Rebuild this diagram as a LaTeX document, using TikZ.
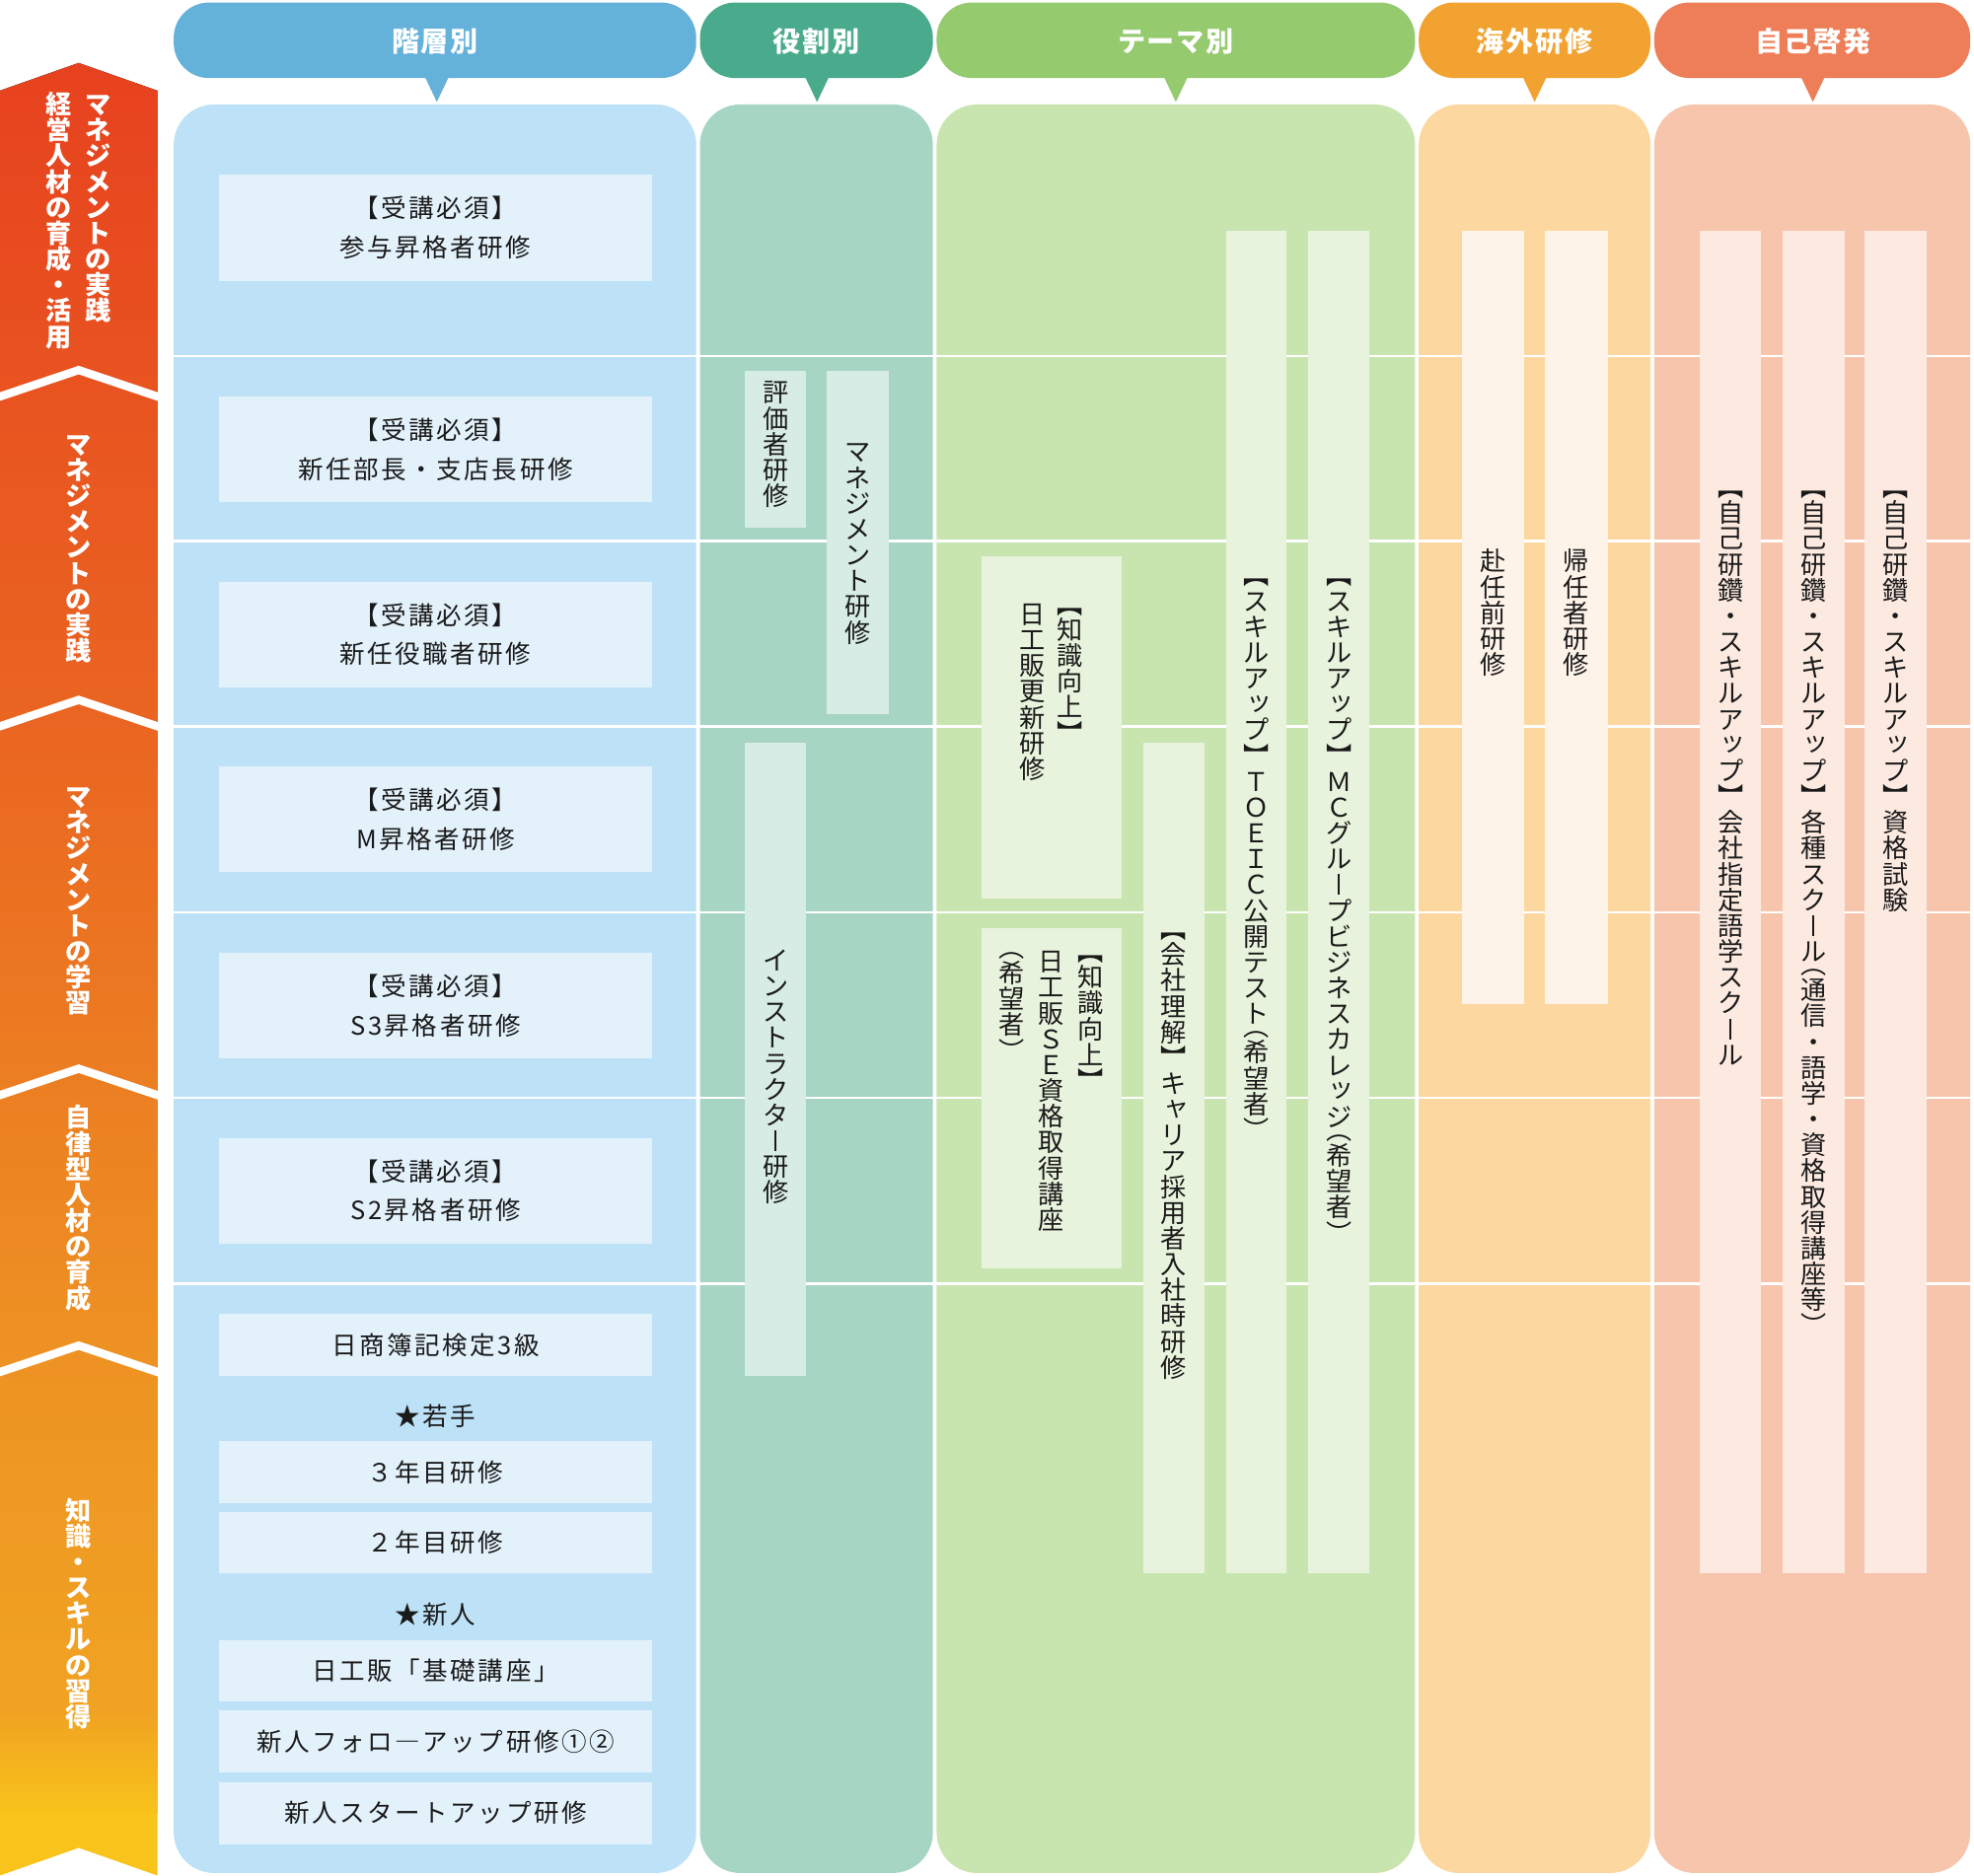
\documentclass[tikz,border=0pt]{standalone}
\usepackage{fontspec}
\setmainfont{Noto Sans CJK JP}
\definecolor{hBlue}{HTML}{64B1DA}
\definecolor{hTeal}{HTML}{4AAA8C}
\definecolor{hGreen}{HTML}{96CA6F}
\definecolor{hOrange}{HTML}{F2A230}
\definecolor{hSalmon}{HTML}{EE7E58}
\definecolor{pBlue}{HTML}{BDE2F7}
\definecolor{pTeal}{HTML}{A6D5C3}
\definecolor{pGreen}{HTML}{C8E5AF}
\definecolor{pOrange}{HTML}{FDD7A0}
\definecolor{pSalmon}{HTML}{F7C4AC}
\definecolor{bBlue}{HTML}{E3F1FB}
\definecolor{bTeal}{HTML}{D7ECE4}
\definecolor{bGreen}{HTML}{E8F3DD}
\definecolor{bOrange}{HTML}{FEF3E8}
\definecolor{bSalmon}{HTML}{FCEAE1}
\definecolor{txt}{HTML}{1A1A1A}
\definecolor{bandA}{HTML}{E7411F}
\definecolor{bandB}{HTML}{EA6721}
\definecolor{bandC}{HTML}{EE9423}
\definecolor{bandD}{HTML}{F0A322}
\definecolor{bandE}{HTML}{F8C31A}
\newcommand\myHdrFont{\fontsize{22}{26}\selectfont\bfseries\addfontfeature{LetterSpace=6}}
\newcommand\myBoxFont{\fontsize{20}{31}\selectfont\addfontfeature{LetterSpace=10}}
\newcommand\myTateFont{\fontsize{20.5}{20.5}\selectfont}
% vertical (tategaki) text: one upright glyph per cell
\newcommand\Po{︵}
\newcommand\Pc{︶}
\makeatletter
\newlength\vtpitch
\setlength\vtpitch{20.5pt}
\def\vt@Po{\Po}
\def\vt@Pc{\Pc}
\newcommand\vtcell[1]{\vbox to \vtpitch{\kern0.86em\hbox to 1em{\hss\smash{#1}\hss}\vss}}
\newcommand\vthalfo{\vbox to 0.5\vtpitch{\kern0.36em\hbox to 1em{\hss\smash{︵}\hss}\vss}}
\newcommand\vthalfc{\vbox to 0.5\vtpitch{\kern0.86em\hbox to 1em{\hss\smash{︶}\hss}\vss}}
\newcommand\vtext[1]{\vbox{\offinterlineskip\@tfor\vt@c:=#1\do{%
  \ifx\vt@c\vt@Po\vthalfo\else\ifx\vt@c\vt@Pc\vthalfc\else\vtcell{\vt@c}\fi\fi}}}
\makeatother
\newcommand\Xtu{\raisebox{0.13em}{\hspace{0.2em}ッ}}
\newcommand\Xya{\raisebox{0.13em}{\hspace{0.2em}ャ}}
\newcommand\Xcho{\rule[-0.02em]{0.065em}{0.8em}}
\begin{document}
\begin{tikzpicture}[x=1pt,y=-1pt,
  every node/.style={inner sep=0pt, outer sep=0pt},
  hdr/.style={text=white, font=\myHdrFont},
  box/.style={fill=bBlue, minimum width=344pt, font=\myBoxFont, align=center, text=txt},
  star/.style={font=\myBoxFont, text=txt},
  vt/.style={anchor=north, font=\myTateFont, text=txt},
  vtw/.style={anchor=north, font=\myTateFont\bfseries, text=white},
  rowline/.style={white, line width=2pt},
  chev/.style={white, line width=6.5pt, miter limit=10},
  panel/.style={rounded corners=32pt}
]
\useasboundingbox (0,0) rectangle (1568,1490);
\fill[white] (0,0) rectangle (1568,1490);

% ---------- left band ----------
\begin{scope}
\clip (0,72) -- (62.5,50) -- (125,72) -- (125,1490) -- (62.5,1468) -- (0,1490) -- cycle;
\fill[top color=bandA, bottom color=bandB] (0,40) rectangle (125,601);
\fill[top color=bandB, bottom color=bandC] (0,600) rectangle (125,1101);
\fill[top color=bandC, bottom color=bandD] (0,1100) rectangle (125,1361);
\fill[top color=bandD, bottom color=bandE] (0,1360) rectangle (125,1441);
\fill[bandE] (0,1440) rectangle (125,1500);
\end{scope}
\foreach \e in {315,577,870,1090}
  \draw[chev] (-5,\e+1.7) -- (62.5,\e-21) -- (130,\e+1.7);

\node[vtw] (L1a) at (78,73) {\vtext{マネジメントの実践}};
\node[vtw] (L1b) at (47,73) {\vtext{経営人材の育成・活用}};
\node[vtw] (L2) at (62.5,343) {\vtext{マネジメントの実践}};
\node[vtw] (L3) at (62.5,623) {\vtext{マネジメントの学習}};
\node[vtw] (L4) at (62.5,878) {\vtext{自律型人材の育成}};
\node[vtw] (L5) at (62.5,1190) {\vtext{知識・スキルの習得}};

% ---------- headers ----------
\fill[hBlue, rounded corners=28pt] (138,2) rectangle (553,62);
\fill[hBlue] (337,60) -- (357,60) -- (347,81) -- cycle;
\fill[hTeal, rounded corners=28pt] (556,2) rectangle (741,62);
\fill[hTeal] (639,60) -- (659,60) -- (649,81) -- cycle;
\fill[hGreen, rounded corners=28pt] (744,2) rectangle (1124,62);
\fill[hGreen] (924,60) -- (944,60) -- (934,81) -- cycle;
\fill[hOrange, rounded corners=28pt] (1127,2) rectangle (1311,62);
\fill[hOrange] (1209,60) -- (1229,60) -- (1219,81) -- cycle;
\fill[hSalmon, rounded corners=28pt] (1314,2) rectangle (1565,62);
\fill[hSalmon] (1430,60) -- (1450,60) -- (1440,81) -- cycle;
\node[hdr] (H1) at (345.5,33) {階層別};
\node[hdr] (H2) at (648.5,33) {役割別};
\node[hdr] (H3) at (934,33) {テーマ別};
\node[hdr] (H4) at (1219,33) {海外研修};
\node[hdr] (H5) at (1440,33) {自己啓発};

% ---------- panels ----------
\fill[pBlue, panel] (138,83) rectangle (553,1488);
\fill[pTeal, panel] (556,83) rectangle (741,1488);
\fill[pGreen, panel] (744,83) rectangle (1124,1488);
\fill[pOrange, panel] (1127,83) rectangle (1311,1488);
\fill[pSalmon, panel] (1314,83) rectangle (1565,1488);
\foreach \x in {554.5,742.5,1125.5,1312.5}
  \draw[white, line width=2pt] (\x,83) -- (\x,1490);
\foreach \y in {283,430,577,725,872,1020}
  \draw[rowline] (138,\y) -- (1565,\y);

% ---------- 階層別 boxes ----------
\node[box, minimum height=84pt] (b1) at (346,181) {【受講必須】\\参与昇格者研修};
\node[box, minimum height=84pt] (b2) at (346,357) {【受講必須】\\新任部長・支店長研修};
\node[box, minimum height=84pt] (b3) at (346,504) {【受講必須】\\新任役職者研修};
\node[box, minimum height=84pt] (b4) at (346,651) {【受講必須】\\M昇格者研修};
\node[box, minimum height=84pt] (b5) at (346,799) {【受講必須】\\S3昇格者研修};
\node[box, minimum height=84pt] (b6) at (346,946) {【受講必須】\\S2昇格者研修};
\node[box, minimum height=49pt] (b7) at (346,1068.5) {日商簿記検定3級};
\node[star] (s1) at (346,1125) {★若手};
\node[box, minimum height=49pt] (b8) at (346,1169.5) {３年目研修};
\node[box, minimum height=49pt] (b9) at (346,1225.5) {２年目研修};
\node[star] (s2) at (346,1283) {★新人};
\node[box, minimum height=49pt] (b10) at (346,1327.5) {日工販「基礎講座」};
\node[box, minimum height=49pt] (b11) at (346,1383.5) {新人フォロ―アップ研修①②};
\node[box, minimum height=49pt] (b12) at (346,1440.5) {新人スタートアップ研修};

% ---------- 役割別 bars ----------
\fill[bTeal] (592,295) rectangle (640,419);
\fill[bTeal] (657,295) rectangle (706,567);
\fill[bTeal] (592,590) rectangle (640,1093);
\node[vt] (r1) at (616,302) {\vtext{評価者研修}};
\node[vt] (r2) at (681.5,349) {\vtext{マネジメント研修}};
\node[vt] (r3) at (616,753) {\vtext{インストラクタ\Xcho 研修}};

% ---------- テーマ別 bars ----------
\fill[bGreen] (780,442) rectangle (891,714);
\fill[bGreen] (780,737) rectangle (891,1008);
\fill[bGreen] (908,590) rectangle (957,1250);
\fill[bGreen] (974,183) rectangle (1022,1250);
\fill[bGreen] (1039,183) rectangle (1088,1250);
\node[vt] (t1a) at (850,470) {\vtext{︻知識向上︼}};
\node[vt] (t1b) at (820,478) {\vtext{日工販更新研修}};
\node[vt] (t2a) at (866,746) {\vtext{︻知識向上︼}};
\node[vt] (t2b) at (835,754) {\vtext{日工販ＳＥ資格取得講座}};
\node[vt] (t2c) at (804,753) {\vtext{\Po 希望者\Pc}};
\node[vt] (t3) at (932.5,728) {\vtext{︻会社理解︼キ\Xya リア採用者入社時研修}};
\node[vt] (t4) at (998,447) {\vtext{︻スキルア\Xtu プ︼ＴＯＥＩＣ公開テスト\Po 希望者\Pc}};
\node[vt] (t5) at (1063.5,447) {\vtext{︻スキルア\Xtu プ︼ＭＣグル\Xcho プビジネスカレ\Xtu ジ\Po 希望者\Pc}};

% ---------- 海外研修 bars ----------
\fill[bOrange] (1161,183) rectangle (1211,798);
\fill[bOrange] (1227,183) rectangle (1277,798);
\node[vt] (o1) at (1186,436) {\vtext{赴任前研修}};
\node[vt] (o2) at (1252,436) {\vtext{帰任者研修}};

% ---------- 自己啓発 bars ----------
\fill[bSalmon] (1350,183) rectangle (1399,1250);
\fill[bSalmon] (1416,183) rectangle (1465,1250);
\fill[bSalmon] (1481,183) rectangle (1530,1250);
\node[vt] (j1) at (1374.5,377) {\vtext{︻自己研鑽・スキルア\Xtu プ︼会社指定語学スク\Xcho ル}};
\node[vt] (j2) at (1440.5,377) {\vtext{︻自己研鑽・スキルア\Xtu プ︼各種スク\Xcho ル\Po 通信・語学・資格取得講座等\Pc}};
\node[vt] (j3) at (1505.5,377) {\vtext{︻自己研鑽・スキルア\Xtu プ︼資格試験}};
\end{tikzpicture}
\end{document}
